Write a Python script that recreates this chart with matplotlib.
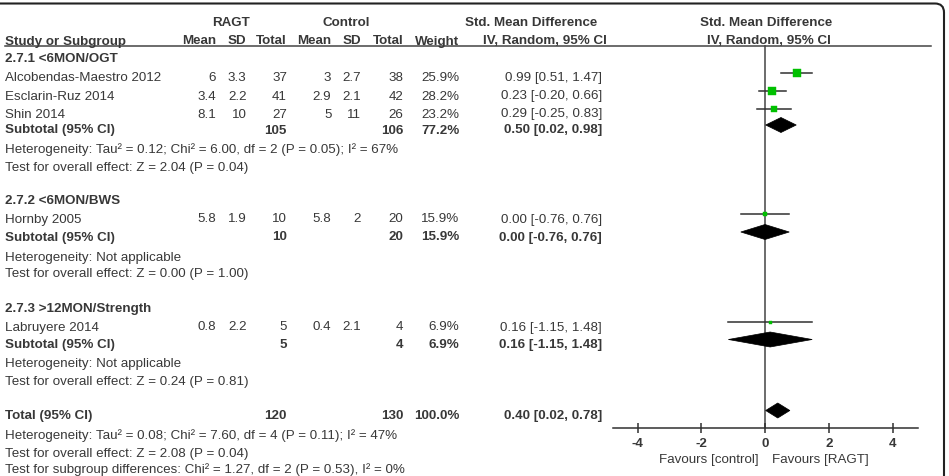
import matplotlib
matplotlib.use("Agg")
import matplotlib.pyplot as plt
from matplotlib.patches import Polygon, FancyBboxPatch

plt.rcParams['font.family'] = ['Liberation Sans', 'DejaVu Sans']

# ---------------- data ----------------
subgroups = ["2.7.1 <6MON/OGT", "2.7.2 <6MON/BWS", "2.7.3 >12MON/Strength"]
studies = ["Alcobendas-Maestro 2012", "Esclarin-Ruz 2014", "Shin 2014",
           "Hornby 2005", "Labruyere 2014"]
study_group = [0, 0, 0, 1, 2]
ragt_mean = [6, 3.4, 8.1, 5.8, 0.8]
ragt_sd = [3.3, 2.2, 10, 1.9, 2.2]
ragt_n = [37, 41, 27, 10, 5]
ctrl_mean = [3, 2.9, 5, 5.8, 0.4]
ctrl_sd = [2.7, 2.1, 11, 2, 2.1]
ctrl_n = [38, 42, 26, 20, 4]
weight = [25.9, 28.2, 23.2, 15.9, 6.9]
smd = [0.99, 0.23, 0.29, 0.00, 0.16]
smd_lo = [0.51, -0.20, -0.25, -0.76, -1.15]
smd_hi = [1.47, 0.66, 0.83, 0.76, 1.48]

sub_n_ragt = [105, 10, 5]
sub_n_ctrl = [106, 20, 4]
sub_weight = [77.2, 15.9, 6.9]
sub_smd = [0.50, 0.00, 0.16]
sub_lo = [0.02, -0.76, -1.15]
sub_hi = [0.98, 0.76, 1.48]
sub_het = ["Heterogeneity: Tau\u00b2 = 0.12; Chi\u00b2 = 6.00, df = 2 (P = 0.05); I\u00b2 = 67%",
           "Heterogeneity: Not applicable",
           "Heterogeneity: Not applicable"]
sub_test = ["Test for overall effect: Z = 2.04 (P = 0.04)",
            "Test for overall effect: Z = 0.00 (P = 1.00)",
            "Test for overall effect: Z = 0.24 (P = 0.81)"]

total_n_ragt = 120
total_n_ctrl = 130
total_weight = 100.0
total_smd = 0.40
total_lo = 0.02
total_hi = 0.78
total_notes = ["Heterogeneity: Tau\u00b2 = 0.08; Chi\u00b2 = 7.60, df = 4 (P = 0.11); I\u00b2 = 47%",
               "Test for overall effect: Z = 2.08 (P = 0.04)",
               "Test for subgroup differences: Chi\u00b2 = 1.27, df = 2 (P = 0.53), I\u00b2 = 0%"]

xticks = [-4, -2, 0, 2, 4]
fav_left = "Favours [control]"
fav_right = "Favours [RAGT]"

# ---------------- layout (pixels) ----------------
W, H = 949, 476
TXT = "#383838"
FS = 9.6
group_rows = [58, 200, 307.5]
study_rows = [76.5, 95, 113, 218, 326]
sub_rows = [129, 236, 343.5]
het_rows = [148, 256, 362]
test_rows = [166, 273, 381]
total_row = 414.5
total_note_rows = [434, 452, 468.5]
mark_shift = -4
col_right = [216, 246.5, 287, 331.5, 361, 403.5, 459.5, 602]
ax_left, ax_right, ax_top, ax_bot = 613, 918, 45, 428
xlim = (-4.77, 4.80)

fig = plt.figure(figsize=(W / 100, H / 100), dpi=100)
tax = fig.add_axes([0, 0, 1, 1])
tax.set_xlim(0, W)
tax.set_ylim(H, 0)
tax.axis("off")


def t(x, y, s, ha="left", bold=False, **kw):
    tax.text(x, y, s, ha=ha, va="center_baseline", fontsize=FS, color=TXT,
             fontweight="bold" if bold else "normal", **kw)


# border (rounded top-right)
tax.add_patch(FancyBboxPatch((-30, 3.5), 974, 520,
                             boxstyle="round,pad=0,rounding_size=9",
                             fill=False, ec="#222222", lw=1.5, clip_on=True))

# headers
t(231.5, 22, "RAGT", ha="center", bold=True)
t(346.5, 22, "Control", ha="center", bold=True)
t(465, 22, "Std. Mean Difference", bold=True)
t(766, 22, "Std. Mean Difference", ha="center", bold=True)
t(5.5, 40, "Study or Subgroup", bold=True)
for x, s in zip(col_right[:7], ["Mean", "SD", "Total", "Mean", "SD", "Total", "Weight"]):
    t(x, 40, s, ha="right", bold=True)
t(483, 40, "IV, Random, 95% CI", bold=True)
t(769, 40, "IV, Random, 95% CI", ha="center", bold=True)
tax.plot([5, 931], [45.5, 45.5], color="#444444", lw=1.1)


def ci_text(e, lo, hi):
    return f"{e:.2f} [{lo:.2f}, {hi:.2f}]"


for g, name in enumerate(subgroups):
    t(5.5, group_rows[g], name, bold=True)
    t(col_right[2], sub_rows[g], f"{sub_n_ragt[g]}", ha="right", bold=True)
    t(col_right[5], sub_rows[g], f"{sub_n_ctrl[g]}", ha="right", bold=True)
    t(col_right[6], sub_rows[g], f"{sub_weight[g]:.1f}%", ha="right", bold=True)
    t(col_right[7], sub_rows[g], ci_text(sub_smd[g], sub_lo[g], sub_hi[g]), ha="right", bold=True)
    t(5.5, sub_rows[g], "Subtotal (95% CI)", bold=True)
    t(5.5, het_rows[g], sub_het[g])
    t(5.5, test_rows[g], sub_test[g])

for i, name in enumerate(studies):
    y = study_rows[i]
    t(5.5, y, name)
    vals = [f"{ragt_mean[i]:g}", f"{ragt_sd[i]:g}", f"{ragt_n[i]}",
            f"{ctrl_mean[i]:g}", f"{ctrl_sd[i]:g}", f"{ctrl_n[i]}",
            f"{weight[i]:.1f}%", ci_text(smd[i], smd_lo[i], smd_hi[i])]
    for x, s in zip(col_right, vals):
        t(x, y, s, ha="right")

t(5.5, total_row, "Total (95% CI)", bold=True)
t(col_right[2], total_row, f"{total_n_ragt}", ha="right", bold=True)
t(col_right[5], total_row, f"{total_n_ctrl}", ha="right", bold=True)
t(col_right[6], total_row, f"{total_weight:.1f}%", ha="right", bold=True)
t(col_right[7], total_row, ci_text(total_smd, total_lo, total_hi), ha="right", bold=True)
for y, s in zip(total_note_rows, total_notes):
    t(5.5, y, s)

# ---------------- forest axes ----------------
fax = fig.add_axes([ax_left / W, 1 - ax_bot / H, (ax_right - ax_left) / W,
                    (ax_bot - ax_top) / H])
fax.set_xlim(*xlim)
fax.set_ylim(ax_bot, ax_top)
fax.patch.set_alpha(0)
for sp in ["top", "left", "right"]:
    fax.spines[sp].set_visible(False)
fax.spines["bottom"].set_color("#303030")
fax.spines["bottom"].set_linewidth(1.1)
fax.set_yticks([])
fax.set_xticks(xticks)
fax.set_xticklabels([f"{v}" for v in xticks])
fax.tick_params(axis="x", direction="inout", length=7, width=1.1, color="#303030",
                labelsize=FS, labelcolor=TXT, pad=3.5)
for lab in fax.get_xticklabels():
    lab.set_fontweight("bold")
fax.axvline(0, color="#444444", lw=1.1, zorder=1)

for i in range(len(studies)):
    y = study_rows[i] + mark_shift
    fax.plot([smd_lo[i], smd_hi[i]], [y, y], color="#303030", lw=1.1, zorder=2)
    side_px = max(3.0, 0.33 * weight[i] - 0.8)
    fax.plot([smd[i]], [y], marker="s", ms=side_px * 0.72, color="#00c000",
             mec="#00c000", mew=0.3, zorder=3, linestyle="none")


def diamond(e, lo, hi, y, h=7.5):
    fax.add_patch(Polygon([(lo, y), (e, y - h), (hi, y), (e, y + h)],
                          closed=True, fc="black", ec="black", lw=0.5, zorder=3))


for g in range(len(subgroups)):
    diamond(sub_smd[g], sub_lo[g], sub_hi[g], sub_rows[g] + mark_shift)
diamond(total_smd, total_lo, total_hi, total_row + mark_shift)

t(759, 458.5, fav_left, ha="right")
t(772, 458.5, fav_right, ha="left")

fig.savefig("out.png", dpi=100)
